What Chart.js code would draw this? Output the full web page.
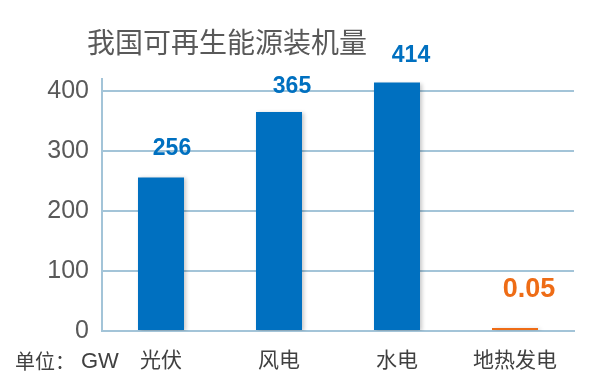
<!DOCTYPE html>
<html><head><meta charset="utf-8">
<script src="https://cdn.jsdelivr.net/npm/chart.js@4/dist/chart.umd.min.js"></script>
<style>html,body{margin:0;padding:0;background:#fff}#wrap{width:596px;height:390px}</style>
</head><body><div id="wrap"><canvas id="c" width="596" height="390"></canvas></div>
<script>
const categories = ['光伏', '风电', '水电', '地热发电'];
const values = [256, 365, 414, 0.05];
const valueLabels = ['256', '365', '414', '0.05'];
const yTicks = [0, 100, 200, 300, 400];
const titleText = '我国可再生能源装机量';
const unitCn = '单位：';
const unitEn = 'GW';

const BLUE = '#0070C0', ORANGE = '#EE6C16', GRID = '#A3C4D8';
const CJK = '"Noto Sans CJK SC", "Liberation Sans", sans-serif';
const LAT = '"Liberation Sans", Arial, "Noto Sans CJK SC", sans-serif';

const decor = {
  id: 'decor',
  beforeDatasetsDraw(chart) {
    const ctx = chart.ctx;
    ctx.save();
    ctx.shadowColor = 'rgba(0,0,0,0.22)';
    ctx.shadowBlur = 4;
    ctx.shadowOffsetX = 2;
    ctx.shadowOffsetY = 1;
  },
  afterDatasetsDraw(chart) {
    chart.ctx.restore();
  },
  afterDraw(chart, args, opts) {
    const ctx = chart.ctx;
    ctx.save();
    ctx.fillStyle = '#595959';
    ctx.font = '28px ' + CJK;
    ctx.textBaseline = 'middle';
    ctx.textAlign = 'left';
    ctx.fillText(titleText, 87, 42);
    ctx.fillStyle = '#404040';
    ctx.font = '20px ' + CJK;
    ctx.fillText(unitCn, 15, 361);
    ctx.font = '22px ' + LAT;
    ctx.fillText(unitEn, 81, 362);
    const meta = chart.getDatasetMeta(0);
    ctx.textAlign = 'center';
    meta.data.forEach((bar, i) => {
      ctx.font = 'bold ' + opts.sizes[i] + 'px ' + LAT;
      ctx.fillStyle = opts.colors[i];
      ctx.fillText(valueLabels[i], bar.x + opts.dx[i], bar.y - opts.offsets[i]);
    });
    ctx.restore();
  }
};

new Chart(document.getElementById('c'), {
  type: 'bar',
  data: {
    labels: categories,
    datasets: [{
      data: values,
      backgroundColor: [BLUE, BLUE, BLUE, ORANGE],
      borderWidth: 0,
      minBarLength: 3,
      barPercentage: 0.39,
      categoryPercentage: 1.0
    }]
  },
  options: {
    responsive: false,
    animation: false,
    layout: { padding: { top: 79, right: 22, left: 0, bottom: 0 } },
    plugins: {
      legend: { display: false },
      tooltip: { enabled: false },
      decor: {
        offsets: [29, 25, 27, 38],
        dx: [11, 13, 14, 14],
        sizes: [23, 23, 23, 27],
        colors: [BLUE, BLUE, BLUE, ORANGE]
      }
    },
    scales: {
      x: {
        grid: { display: false, drawTicks: false },
        border: { color: GRID, width: 2 },
        ticks: { color: '#404040', font: { family: CJK, size: 21 }, padding: 15, maxRotation: 0 },
        afterFit(s) { s.height = 59; }
      },
      y: {
        min: 0, max: 420,
        afterBuildTicks(s) { s.ticks = yTicks.map(v => ({ value: v })); },
        grid: { color: GRID, lineWidth: 2, drawTicks: false },
        border: { color: GRID, width: 2 },
        ticks: { color: '#595959', font: { family: LAT, size: 25 }, padding: 13 },
        afterFit(s) { s.width = 102; }
      }
    }
  },
  plugins: [decor]
});
</script></body></html>
